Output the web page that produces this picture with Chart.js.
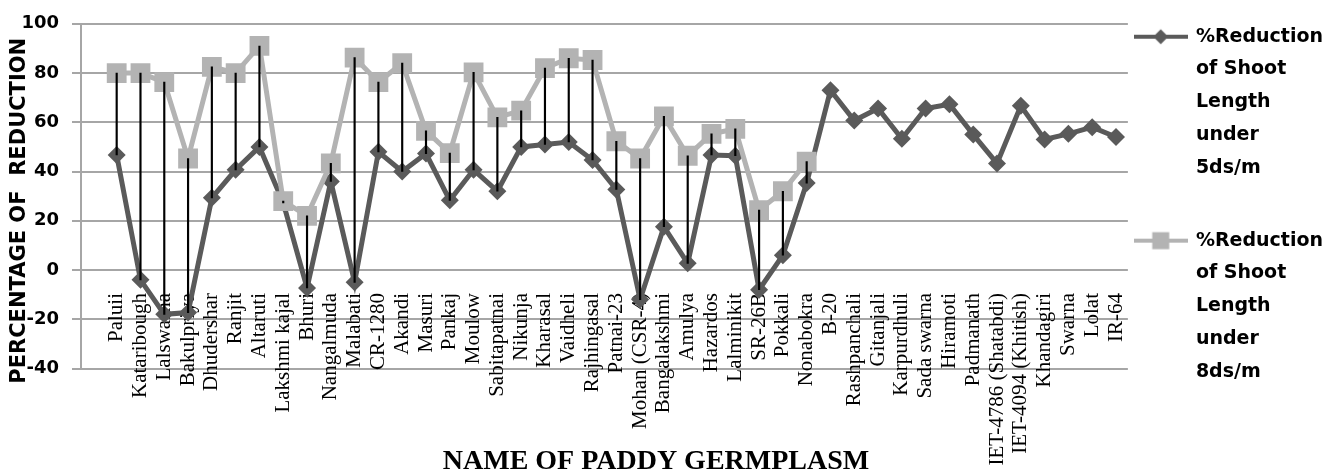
<!DOCTYPE html>
<html>
<head>
<meta charset="utf-8">
<style>
  html, body { margin: 0; padding: 0; background: #ffffff; }
  #wrap { width: 1340px; height: 476px; position: relative; }
</style>
<script src="https://cdn.jsdelivr.net/npm/chart.js@4/dist/chart.umd.min.js"></script>
</head>
<body>
<div id="wrap"><canvas id="chart" width="1340" height="476"></canvas></div>
<script>
// ---- data ----
const categories = ['', 'Paluii', 'Kataribough', 'Lalswarna', 'Bakulpriya', 'Dhudershar', 'Ranjit', 'Altaruti',
  'Lakshmi kajal', 'Bhuri', 'Nangalmuda', 'Malabati', 'CR-1280', 'Akandi', 'Masuri', 'Pankaj', 'Moulow',
  'Sabitapatnai', 'Nikunja', 'Kharasal', 'Vaidheli', 'Rajhingasal', 'Patnai-23', 'Mohan (CSR-4)',
  'Bangalakshmi', 'Amulya', 'Hazardos', 'Lalminikit', 'SR-26B', 'Pokkali', 'Nonabokra', 'B-20',
  'Rashpanchali', 'Gitanjali', 'Karpurdhuli', 'Sada swarna', 'Hiramoti', 'Padmanath',
  'IET-4786 (Shatabdi)', 'IET-4094 (Khitish)', 'Khandagiri', 'Swarna', 'Lolat', 'IR-64'];

const reduction5 = [null, 46.7, -4, -18, -17.3, 29.3, 40.7, 50, 27.3, -7.3, 36, -5, 48, 40, 47.3, 28.3,
  40.7, 32, 50, 51, 52, 44.7, 32.7, -12, 17.6, 2.7, 46.7, 46.4, -8, 6, 35.3, 73, 60.7, 65.6, 53.3,
  65.6, 67.3, 55, 43.3, 66.7, 53, 55.3, 58, 54];

const reduction8 = [null, 80, 80, 76.3, 45.3, 82.5, 80, 91, 28, 22, 43.3, 86.3, 76.3, 84, 56.5, 47.5,
  80.3, 62, 64.7, 82, 86, 85.3, 52.3, 45.3, 62.4, 46.4, 55.3, 57.3, 24.3, 32, 44,
  null, null, null, null, null, null, null, null, null, null, null, null, null];

const yTicks = [-40, -20, 0, 20, 40, 60, 80, 100];

const legend5 = ['%Reduction', 'of Shoot', 'Length', 'under', '5ds/m', ''];
const legend8 = ['%Reduction', 'of Shoot', 'Length', 'under', '8ds/m'];

const yTitle = 'PERCENTAGE OF  REDUCTION';
const xTitle = 'NAME OF PADDY GERMPLASM';

// high-low lines between the two series (only where both exist)
const highLow = categories.map((c, i) =>
  (reduction5[i] != null && reduction8[i] != null)
    ? [Math.min(reduction5[i], reduction8[i]), Math.max(reduction5[i], reduction8[i])]
    : null);

// ---- styles ----
const DARK = '#5a5a5a';
const LIGHT = '#b3b3b3';
const GRID = '#a6a6a6';

function legendMarker(kind) {
  const c = document.createElement('canvas');
  c.width = 54; c.height = 20;
  const g = c.getContext('2d');
  g.strokeStyle = kind === 'diamond' ? DARK : LIGHT;
  g.lineWidth = 4;
  g.beginPath(); g.moveTo(0, 10); g.lineTo(54, 10); g.stroke();
  g.fillStyle = kind === 'diamond' ? DARK : LIGHT;
  if (kind === 'diamond') {
    g.beginPath(); g.moveTo(27, 2.5); g.lineTo(34.5, 10); g.lineTo(27, 17.5); g.lineTo(19.5, 10); g.closePath(); g.fill();
  } else {
    g.fillRect(18.5, 1.5, 17, 17);
  }
  return c;
}
const marker5 = legendMarker('diamond');
const marker8 = legendMarker('square');

const ctx = document.getElementById('chart').getContext('2d');
new Chart(ctx, {
  type: 'line',
  data: {
    labels: categories,
    datasets: [
      {
        type: 'bar',
        label: 'High-Low',
        data: highLow,
        backgroundColor: '#000000',
        borderWidth: 0,
        barThickness: 1.5,
        order: 0
      },
      {
        label: '%Reduction of Shoot Length under 8ds/m',
        data: reduction8,
        borderColor: LIGHT,
        backgroundColor: LIGHT,
        borderWidth: 5,
        pointStyle: 'rect',
        pointRadius: 14,
        pointHoverRadius: 14,
        pointBorderWidth: 0,
        pointBackgroundColor: LIGHT,
        tension: 0,
        spanGaps: false,
        order: 1
      },
      {
        label: '%Reduction of Shoot Length under 5ds/m',
        data: reduction5,
        borderColor: DARK,
        backgroundColor: DARK,
        borderWidth: 5,
        pointStyle: 'rectRot',
        pointRadius: 9,
        pointHoverRadius: 9,
        pointBorderWidth: 0,
        pointBackgroundColor: DARK,
        tension: 0,
        spanGaps: false,
        order: 2
      }
    ]
  },
  options: {
    responsive: false,
    animation: false,
    devicePixelRatio: 1,
    layout: { padding: { top: 20, right: 7, bottom: 0, left: 0 } },
    scales: {
      x: {
        type: 'category',
        offset: true,
        position: { y: 0 },
        grid: { display: false, drawTicks: false },
        border: { display: false },
        ticks: {
          autoSkip: false,
          maxRotation: 90,
          minRotation: 90,
          padding: 23,
          color: '#000000',
          font: { family: 'Liberation Serif', size: 21, lineHeight: 1.1 }
        }
      },
      y: {
        min: -40,
        max: 100,
        afterBuildTicks: (scale) => { scale.ticks = yTicks.map(v => ({ value: v })); },
        afterFit: (scale) => { scale.width = 81; },
        grid: { color: GRID, lineWidth: 2, tickLength: 9, drawTicks: true },
        border: { display: true, color: GRID, width: 2 },
        ticks: {
          padding: 13,
          color: '#000000',
          font: { family: 'DejaVu Sans', weight: 'bold', size: 18 }
        },
        title: {
          display: true,
          text: yTitle + '    ',
          color: '#000000',
          font: { family: 'DejaVu Sans', weight: 'bold', size: 21, lineHeight: 1.2 },
          padding: { top: 7.4, bottom: 0 }
        }
      }
    },
    plugins: {
      tooltip: { enabled: false },
      title: {
        display: true,
        position: 'bottom',
        text: xTitle + '   ',
        color: '#000000',
        font: { family: 'Liberation Serif', weight: 'bold', size: 28, lineHeight: 1.0 },
        padding: { top: 79.5, bottom: 0 }
      },
      legend: {
        display: true,
        position: 'right',
        align: 'start',
        labels: {
          usePointStyle: true,
          pointStyleWidth: 51.3,
          padding: 7.2,
          color: '#000000',
          font: { family: 'DejaVu Sans', weight: 'bold', size: 19, lineHeight: 1.726 },
          generateLabels: () => [
            { text: legend5, pointStyle: marker5, fillStyle: DARK, strokeStyle: DARK, lineWidth: 0, hidden: false, datasetIndex: 2, fontColor: '#000000' },
            { text: legend8, pointStyle: marker8, fillStyle: LIGHT, strokeStyle: LIGHT, lineWidth: 0, hidden: false, datasetIndex: 1, fontColor: '#000000' }
          ]
        }
      }
    }
  }
});
</script>
</body>
</html>
